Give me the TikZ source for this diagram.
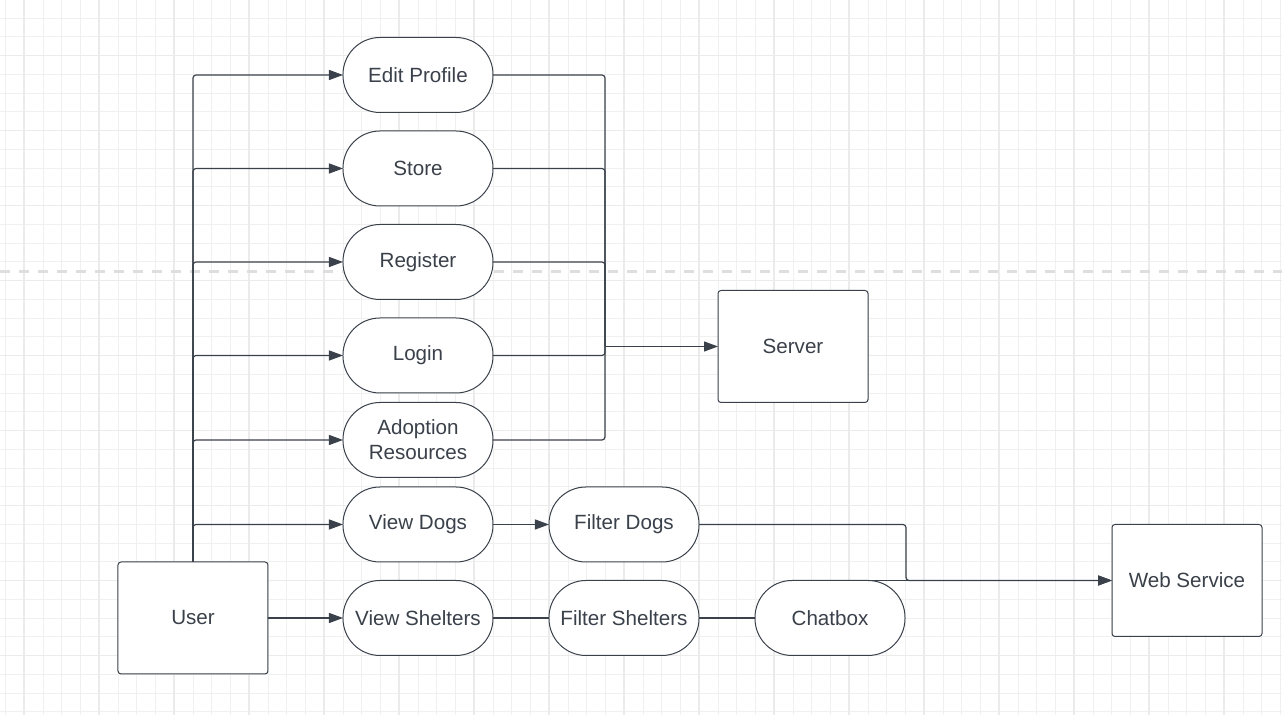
\documentclass[tikz,border=0pt]{standalone}
\usepackage{fontspec}
\setmainfont{Liberation Sans}
\usetikzlibrary{arrows.meta,positioning}
\definecolor{ink}{HTML}{3A414A}

\begin{document}
\begin{tikzpicture}[node distance=9.25pt and 28pt, >={Triangle[length=7pt,width=5pt]},
  pl/.style={draw=ink, fill=white, rounded corners=18.5pt, minimum width=75pt, minimum height=37.5pt,
    inner sep=1pt, outer sep=0pt, text=ink, font=\fontsize{10.3}{12.5}\selectfont, align=center, line width=0.5pt},
  bx/.style={draw=ink, fill=white, rounded corners=1.5pt, minimum width=75pt, minimum height=56pt,
    outer sep=0pt, text=ink, font=\fontsize{10.3}{12.5}\selectfont, line width=0.5pt},
  e/.style={->, draw=ink, line width=0.6pt, rounded corners=1.5pt},
  ln/.style={draw=ink, line width=0.6pt, rounded corners=1.5pt}]
\useasboundingbox (-96.5pt,-48.5pt) rectangle (544.5pt,309pt);
\begin{scope}
\clip (-96.5pt,-48.5pt) rectangle (544.5pt,309pt);
\draw[black!6, line width=0.4pt] (-100pt,-50pt) grid[step=9.375pt] (550pt,310pt);
\begin{scope}[shift={(-9.375pt,18.75pt)}]
\draw[black!8, line width=0.8pt] (-100pt,-80pt) grid[step=37.5pt] (560pt,300pt);
\end{scope}
\draw[black!13, line width=1.5pt, dash pattern=on 5pt off 4.5pt] (-96.5pt,173pt) -- (544.5pt,173pt);
\end{scope}
\node[bx] (user) at (0,0) {User};
\node[pl, right=37.5pt of user] (vshel) {View Shelters};
\node[pl, right=of vshel] (fshel) {Filter Shelters};
\node[pl, right=of fshel] (chat) {Chatbox};
\node[pl, above=of vshel] (vdogs) {View Dogs};
\node[pl, right=of vdogs] (fdogs) {Filter Dogs};
\node[pl, above=4.75pt of vdogs] (adopt) {Adoption\\Resources};
\node[pl, above=4.75pt of adopt] (login) {Login};
\node[pl, above=of login] (reg) {Register};
\node[pl, above=of reg] (store) {Store};
\node[pl, above=of store] (edit) {Edit Profile};
\node[bx, right=112.5pt of login, yshift=4.5pt] (server) {Server};
\node[bx, right=103.5pt of chat.north east] (web) {Web Service};
\coordinate[left=56.5pt of server.west] (sj);
\coordinate[left=103pt of web.west] (wj);
\draw[e] (user.north) |- (edit.west);
\draw[e] (user.north) |- (store.west);
\draw[e] (user.north) |- (reg.west);
\draw[e] (user.north) |- (login.west);
\draw[e] (user.north) |- (adopt.west);
\draw[e] (user.north) |- (vdogs.west);
\draw[e] (user) -- (vshel);
\draw[e] (vdogs) -- (fdogs);
\draw[ln] (vshel) -- (fshel);
\draw[ln] (fshel) -- (chat);
\draw[ln] (edit.east) -| (sj);
\draw[ln] (store.east) -| (sj);
\draw[ln] (reg.east) -| (sj);
\draw[ln] (login.east) -| (sj);
\draw[ln] (adopt.east) -| (sj);
\draw[e] (sj) -- (server);
\draw[e] (fdogs.east) -| (wj) -- (web.west);
\draw[e] (chat.north) -- (web.west);
\end{tikzpicture}
\end{document}
